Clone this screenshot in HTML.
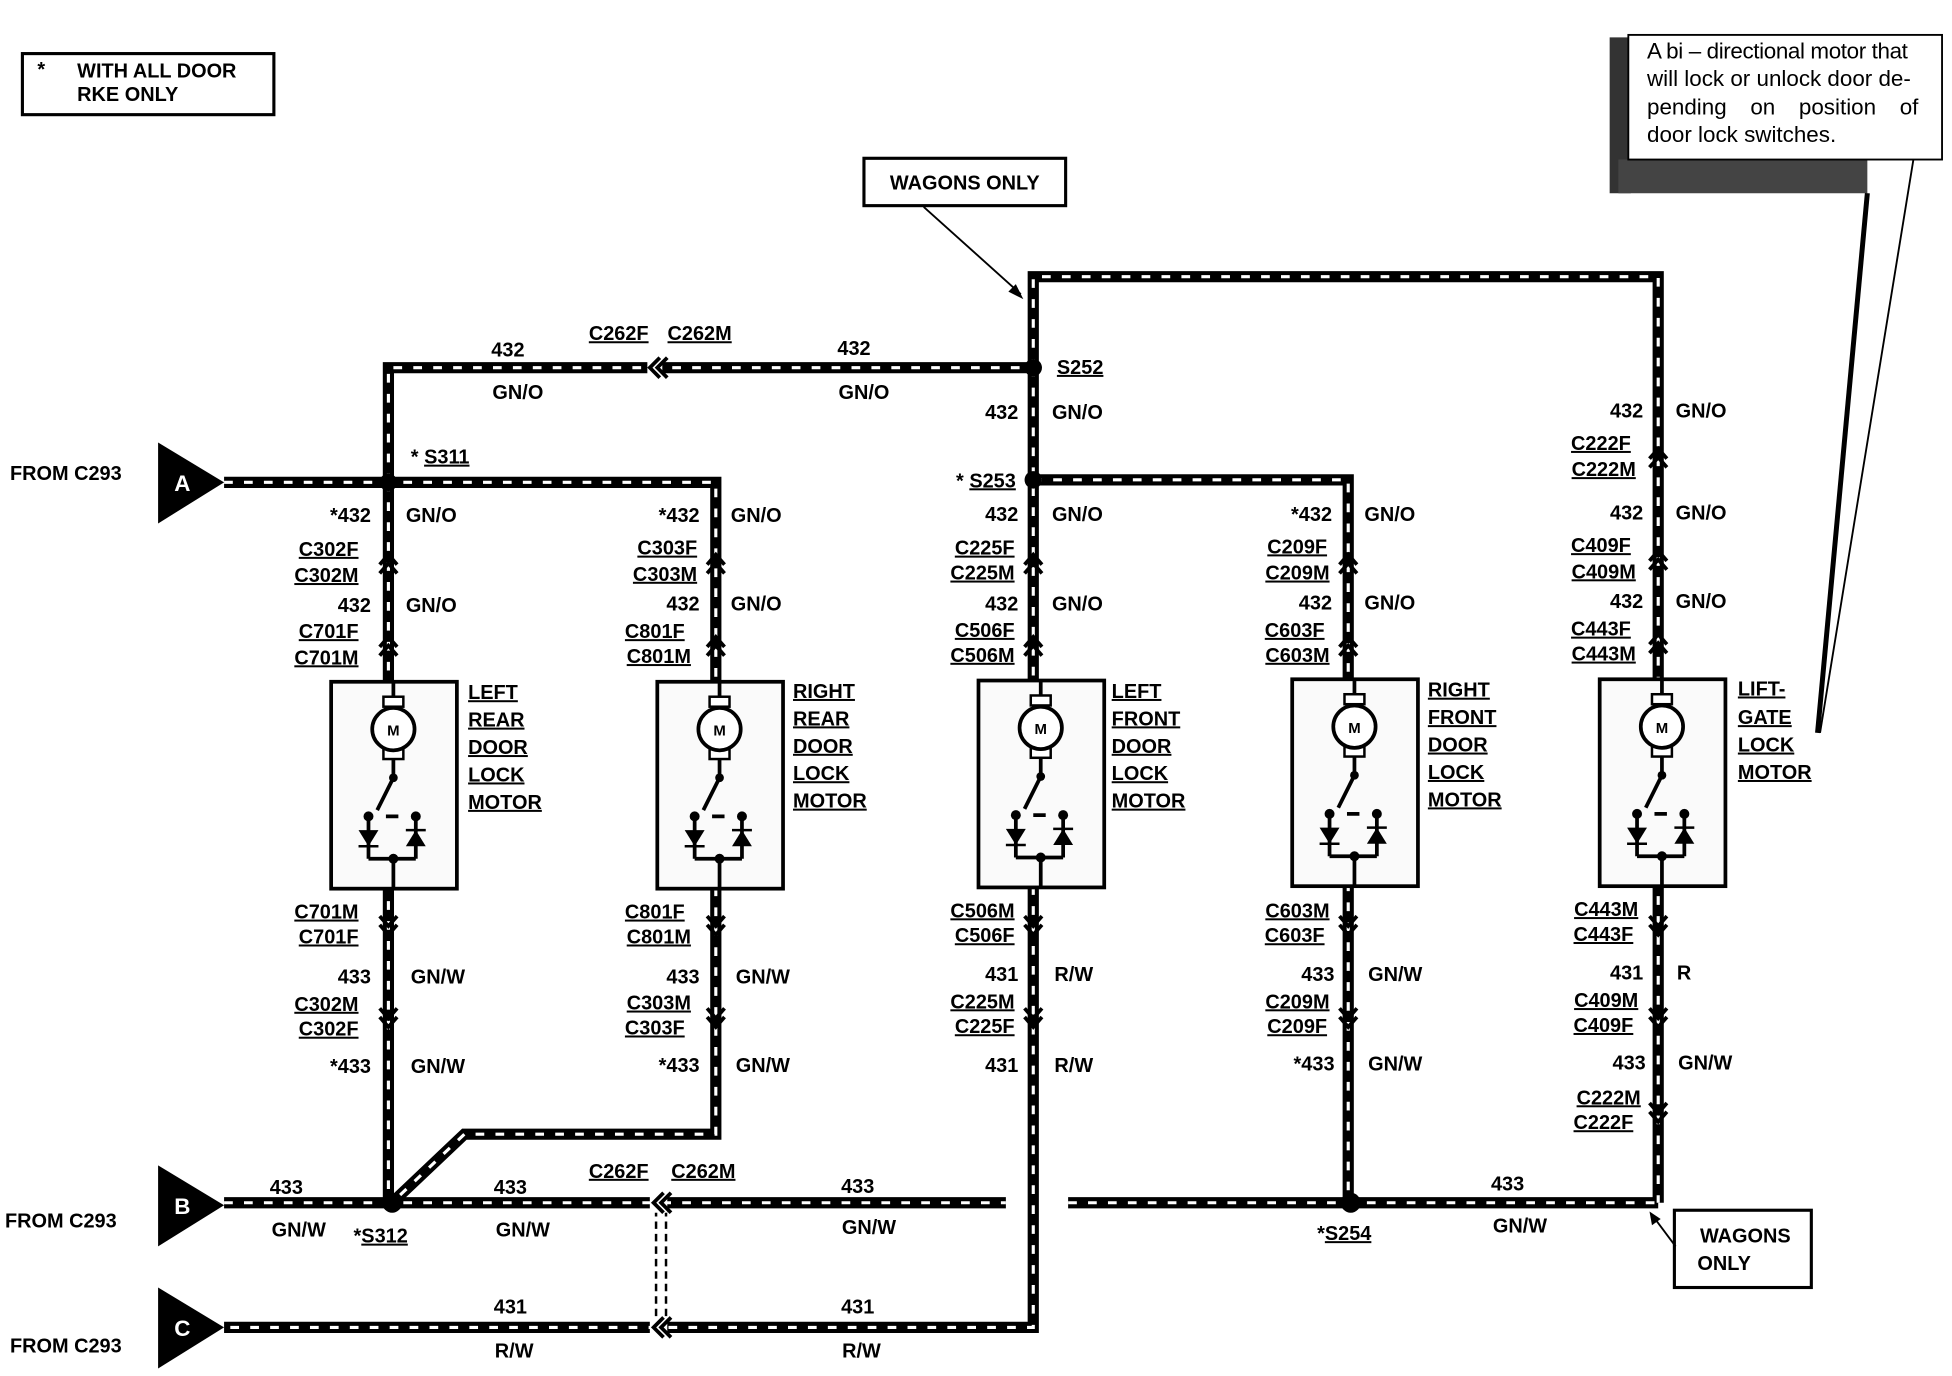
<!DOCTYPE html>
<html><head><meta charset="utf-8"><style>
html,body{margin:0;padding:0;background:#fff}
svg{display:block}
text{font-family:"Liberation Sans",Arial,sans-serif;font-weight:bold;font-size:16px;fill:#000}
.u{text-decoration:underline}
.r{text-anchor:end}
</style></head><body>
<svg width="1952" height="1376" viewBox="0 0 1568 1104" preserveAspectRatio="none" xmlns="http://www.w3.org/2000/svg">
<defs>
<g id="motor">
 <rect x="-50" y="0" width="101" height="166" fill="#fafafa" stroke="#000" stroke-width="3"/>
 <line x1="0" y1="0" x2="0" y2="20" stroke="#000" stroke-width="3"/>
 <rect x="-8" y="12" width="16" height="8" fill="#fff" stroke="#000" stroke-width="2"/>
 <rect x="-8" y="54" width="16" height="8" fill="#fff" stroke="#000" stroke-width="2"/>
 <circle cx="0" cy="38" r="17" fill="#fff" stroke="#000" stroke-width="3"/>
 <text x="0" y="43" text-anchor="middle" style="font-size:12px">M</text>
 <line x1="0" y1="62" x2="0" y2="77" stroke="#000" stroke-width="3"/>
 <circle cx="0" cy="77" r="3.5"/>
 <line x1="0" y1="77" x2="-13" y2="103" stroke="#000" stroke-width="3"/>
 <circle cx="-20" cy="108" r="4"/><circle cx="18" cy="108" r="4"/>
 <line x1="-20" y1="108" x2="-20" y2="142" stroke="#000" stroke-width="3"/>
 <line x1="18" y1="108" x2="18" y2="142" stroke="#000" stroke-width="3"/>
 <line x1="-6" y1="108" x2="4" y2="108" stroke="#000" stroke-width="3"/>
 <path d="M-28,119 L-12,119 L-20,132 Z"/><line x1="-28" y1="132" x2="-12" y2="132" stroke="#000" stroke-width="2"/>
 <path d="M10,132 L26,132 L18,119 Z"/><line x1="10" y1="119" x2="26" y2="119" stroke="#000" stroke-width="2"/>
 <line x1="-20" y1="142" x2="18" y2="142" stroke="#000" stroke-width="3"/>
 <circle cx="0" cy="142" r="4"/>
 <line x1="0" y1="142" x2="0" y2="166" stroke="#000" stroke-width="3"/>
</g>
<g id="chv"><path d="M-7,6 L0,-2 L7,6" fill="none" stroke="#000" stroke-width="3"/><path d="M-7,13 L0,5 L7,13" fill="none" stroke="#000" stroke-width="3"/></g>
<g id="chd"><path d="M-7,-6 L0,2 L7,-6" fill="none" stroke="#000" stroke-width="3"/><path d="M-7,-13 L0,-5 L7,-13" fill="none" stroke="#000" stroke-width="3"/></g>
</defs>

<g fill="none" stroke-linejoin="miter">
<g stroke="#000" stroke-width="9">
 <path d="M312,387 V295 H830"/>
 <path d="M830,295 V222 H1332 V965"/>
 <path d="M180,387 H575 V910 H373 L318,962"/>
 <path d="M830,295 V1065 H180"/>
 <path d="M830,385 H1083 V965"/>
 <path d="M312,387 V965"/>
 <path d="M180,965 H808"/>
 <path d="M858,965 H1332"/>
</g>
<g stroke="#fff" stroke-width="2.5" stroke-dasharray="7,9">
 <path d="M312,387 V295 H830"/>
 <path d="M830,295 V222 H1332 V965"/>
 <path d="M180,387 H575 V910 H373 L318,962"/>
 <path d="M830,295 V1065 H180"/>
 <path d="M830,385 H1083 V965"/>
 <path d="M312,387 V965"/>
 <path d="M180,965 H808"/>
 <path d="M858,965 H1332"/>
</g>
<path d="M527,970 V1060 M535,970 V1060" stroke="#000" stroke-width="2" stroke-dasharray="6,4"/>
</g>

<use href="#motor" x="316" y="547"/>
<use href="#motor" x="578" y="547"/>
<use href="#motor" x="836" y="546"/>
<use href="#motor" x="1088" y="545"/>
<use href="#motor" x="1335" y="545"/>

<rect x="520" y="287" width="12" height="16" fill="#fff"/>
<path d="M530,287 L522,295 L530,303 M536,287 L528,295 L536,303" fill="none" stroke="#000" stroke-width="3"/>
<rect x="522" y="957" width="14" height="16" fill="#fff"/>
<path d="M533,957 L525,965 L533,973 M539,957 L531,965 L539,973" fill="none" stroke="#000" stroke-width="3"/>
<rect x="522" y="1057" width="14" height="16" fill="#fff"/>
<path d="M533,1057 L525,1065 L533,1073 M539,1057 L531,1065 L539,1073" fill="none" stroke="#000" stroke-width="3"/>
<g>
<use href="#chv" x="312" y="447"/><use href="#chv" x="312" y="513"/>
<use href="#chv" x="575" y="447"/><use href="#chv" x="575" y="513"/>
<use href="#chv" x="830" y="447"/><use href="#chv" x="830" y="513"/>
<use href="#chv" x="1083" y="447"/><use href="#chv" x="1083" y="513"/>
<use href="#chv" x="1332" y="362"/><use href="#chv" x="1332" y="444"/><use href="#chv" x="1332" y="511"/>
<use href="#chd" x="312" y="748"/><use href="#chd" x="312" y="822"/>
<use href="#chd" x="575" y="748"/><use href="#chd" x="575" y="822"/>
<use href="#chd" x="830" y="748"/><use href="#chd" x="830" y="822"/>
<use href="#chd" x="1083" y="748"/><use href="#chd" x="1083" y="822"/>
<use href="#chd" x="1332" y="748"/><use href="#chd" x="1332" y="822"/><use href="#chd" x="1332" y="898"/>
</g>

<circle cx="312" cy="387" r="7"/><circle cx="830" cy="295" r="7"/><circle cx="830" cy="385" r="7"/>
<circle cx="315" cy="965" r="8"/><circle cx="1085" cy="965" r="8"/>

<path d="M127,355 L180,387 L127,420 Z"/><text x="140" y="394" style="fill:#fff;font-size:18px">A</text>
<path d="M127,935 L180,967 L127,1000 Z"/><text x="140" y="974" style="fill:#fff;font-size:18px">B</text>
<path d="M127,1033 L180,1065 L127,1098 Z"/><text x="140" y="1072" style="fill:#fff;font-size:18px">C</text>
<text x="8" y="385">FROM C293</text>
<text x="4" y="985">FROM C293</text>
<text x="8" y="1085">FROM C293</text>

<rect x="18" y="43" width="202" height="49" fill="#fff" stroke="#000" stroke-width="2.5"/>
<text x="30" y="61">*</text><text x="62" y="62">WITH ALL DOOR</text><text x="62" y="81">RKE ONLY</text>

<rect x="694" y="127" width="162" height="38" fill="#fff" stroke="#000" stroke-width="2.5"/>
<text x="775" y="152" text-anchor="middle">WAGONS ONLY</text>
<line x1="742" y1="166" x2="820" y2="236" stroke="#000" stroke-width="1.5"/><path d="M822,240 L810,234 L816,228 Z"/>
<rect x="1345" y="971" width="110" height="62" fill="#fff" stroke="#000" stroke-width="2.5"/>
<text x="1402" y="997" text-anchor="middle">WAGONS</text><text x="1385" y="1019" text-anchor="middle">ONLY</text>
<line x1="1346" y1="1000" x2="1328" y2="976" stroke="#000" stroke-width="1.5"/><path d="M1325,972 L1334,978 L1327,983 Z"/>

<path d="M1293,30 H1310 V155 H1293 Z" fill="#333"/>
<path d="M1300,128 H1500 V155 H1300 Z" fill="#444"/>
<rect x="1308" y="28" width="252" height="100" fill="#fff" stroke="#000" stroke-width="1.5"/>
<line x1="1500" y1="155" x2="1460" y2="588" stroke="#000" stroke-width="4"/>
<line x1="1537" y1="128" x2="1462" y2="588" stroke="#000" stroke-width="1.5"/>
<text x="1323" y="47" style="font-weight:normal;font-size:18px;letter-spacing:-0.3px">A bi – directional motor that</text>
<text x="1323" y="69" style="font-weight:normal;font-size:18px">will lock or unlock door de-</text>
<text x="1323" y="92" style="font-weight:normal;font-size:18px;word-spacing:14px">pending on position of</text>
<text x="1323" y="114" style="font-weight:normal;font-size:18px">door lock switches.</text>

<text x="408" y="286" text-anchor="middle">432</text><text x="416" y="320" text-anchor="middle">GN/O</text>
<text x="497" y="273" text-anchor="middle" class="u">C262F</text><text x="562" y="273" text-anchor="middle" class="u">C262M</text>
<text x="686" y="285" text-anchor="middle">432</text><text x="694" y="320" text-anchor="middle">GN/O</text>
<text x="330" y="372">* <tspan class="u">S311</tspan></text>
<text x="849" y="300" class="u">S252</text>
<text x="816" y="391" class="r">* <tspan class="u">S253</tspan></text>
<text x="818" y="336" class="r">432</text><text x="845" y="336">GN/O</text>

<text x="298" y="419" class="r">*432</text><text x="288" y="446" class="r u">C302F</text><text x="288" y="467" class="r u">C302M</text>
<text x="298" y="491" class="r">432</text><text x="288" y="512" class="r u">C701F</text><text x="288" y="533" class="r u">C701M</text>
<text x="288" y="737" class="r u">C701M</text><text x="288" y="757" class="r u">C701F</text><text x="298" y="789" class="r">433</text>
<text x="288" y="811" class="r u">C302M</text><text x="288" y="831" class="r u">C302F</text><text x="298" y="861" class="r">*433</text>
<text x="326" y="419">GN/O</text><text x="326" y="491">GN/O</text><text x="330" y="789">GN/W</text><text x="330" y="861">GN/W</text>
<text x="376" y="561" class="u">LEFT</text><text x="376" y="583" class="u">REAR</text><text x="376" y="605" class="u">DOOR</text><text x="376" y="627" class="u">LOCK</text><text x="376" y="649" class="u">MOTOR</text>

<text x="562" y="419" class="r">*432</text><text x="560" y="445" class="r u">C303F</text><text x="560" y="466" class="r u">C303M</text>
<text x="562" y="490" class="r">432</text><text x="550" y="512" class="r u">C801F</text><text x="555" y="532" class="r u">C801M</text>
<text x="550" y="737" class="r u">C801F</text><text x="555" y="757" class="r u">C801M</text><text x="562" y="789" class="r">433</text>
<text x="555" y="810" class="r u">C303M</text><text x="550" y="830" class="r u">C303F</text><text x="562" y="860" class="r">*433</text>
<text x="587" y="419">GN/O</text><text x="587" y="490">GN/O</text><text x="591" y="789">GN/W</text><text x="591" y="860">GN/W</text>
<text x="637" y="560" class="u">RIGHT</text><text x="637" y="582" class="u">REAR</text><text x="637" y="604" class="u">DOOR</text><text x="637" y="626" class="u">LOCK</text><text x="637" y="648" class="u">MOTOR</text>

<text x="818" y="418" class="r">432</text><text x="815" y="445" class="r u">C225F</text><text x="815" y="465" class="r u">C225M</text>
<text x="818" y="490" class="r">432</text><text x="815" y="511" class="r u">C506F</text><text x="815" y="531" class="r u">C506M</text>
<text x="815" y="736" class="r u">C506M</text><text x="815" y="756" class="r u">C506F</text><text x="818" y="787" class="r">431</text>
<text x="815" y="809" class="r u">C225M</text><text x="815" y="829" class="r u">C225F</text><text x="818" y="860" class="r">431</text>
<text x="845" y="418">GN/O</text><text x="845" y="490">GN/O</text><text x="847" y="787">R/W</text><text x="847" y="860">R/W</text>
<text x="893" y="560" class="u">LEFT</text><text x="893" y="582" class="u">FRONT</text><text x="893" y="604" class="u">DOOR</text><text x="893" y="626" class="u">LOCK</text><text x="893" y="648" class="u">MOTOR</text>

<text x="1070" y="418" class="r">*432</text><text x="1066" y="444" class="r u">C209F</text><text x="1068" y="465" class="r u">C209M</text>
<text x="1070" y="489" class="r">432</text><text x="1064" y="511" class="r u">C603F</text><text x="1068" y="531" class="r u">C603M</text>
<text x="1068" y="736" class="r u">C603M</text><text x="1064" y="756" class="r u">C603F</text><text x="1072" y="787" class="r">433</text>
<text x="1068" y="809" class="r u">C209M</text><text x="1066" y="829" class="r u">C209F</text><text x="1072" y="859" class="r">*433</text>
<text x="1096" y="418">GN/O</text><text x="1096" y="489">GN/O</text><text x="1099" y="787">GN/W</text><text x="1099" y="859">GN/W</text>
<text x="1147" y="559" class="u">RIGHT</text><text x="1147" y="581" class="u">FRONT</text><text x="1147" y="603" class="u">DOOR</text><text x="1147" y="625" class="u">LOCK</text><text x="1147" y="647" class="u">MOTOR</text>

<text x="1320" y="335" class="r">432</text><text x="1310" y="361" class="r u">C222F</text><text x="1314" y="382" class="r u">C222M</text>
<text x="1320" y="417" class="r">432</text><text x="1310" y="443" class="r u">C409F</text><text x="1314" y="464" class="r u">C409M</text>
<text x="1320" y="488" class="r">432</text><text x="1310" y="510" class="r u">C443F</text><text x="1314" y="530" class="r u">C443M</text>
<text x="1316" y="735" class="r u">C443M</text><text x="1312" y="755" class="r u">C443F</text><text x="1320" y="786" class="r">431</text>
<text x="1316" y="808" class="r u">C409M</text><text x="1312" y="828" class="r u">C409F</text><text x="1322" y="858" class="r">433</text>
<text x="1318" y="886" class="r u">C222M</text><text x="1312" y="906" class="r u">C222F</text>
<text x="1346" y="335">GN/O</text><text x="1346" y="417">GN/O</text><text x="1346" y="488">GN/O</text>
<text x="1347" y="786">R</text><text x="1348" y="858">GN/W</text>
<text x="1396" y="558" class="u">LIFT-</text><text x="1396" y="581" class="u">GATE</text><text x="1396" y="603" class="u">LOCK</text><text x="1396" y="625" class="u">MOTOR</text>

<text x="230" y="958" text-anchor="middle">433</text><text x="240" y="992" text-anchor="middle">GN/W</text>
<text x="284" y="997">*<tspan class="u">S312</tspan></text>
<text x="410" y="958" text-anchor="middle">433</text><text x="420" y="992" text-anchor="middle">GN/W</text>
<text x="497" y="945" text-anchor="middle" class="u">C262F</text><text x="565" y="945" text-anchor="middle" class="u">C262M</text>
<text x="689" y="957" text-anchor="middle">433</text><text x="698" y="990" text-anchor="middle">GN/W</text>
<text x="1058" y="995">*<tspan class="u">S254</tspan></text>
<text x="1211" y="955" text-anchor="middle">433</text><text x="1221" y="989" text-anchor="middle">GN/W</text>
<text x="410" y="1054" text-anchor="middle">431</text><text x="413" y="1089" text-anchor="middle">R/W</text>
<text x="689" y="1054" text-anchor="middle">431</text><text x="692" y="1089" text-anchor="middle">R/W</text>
</svg>
</body></html>
